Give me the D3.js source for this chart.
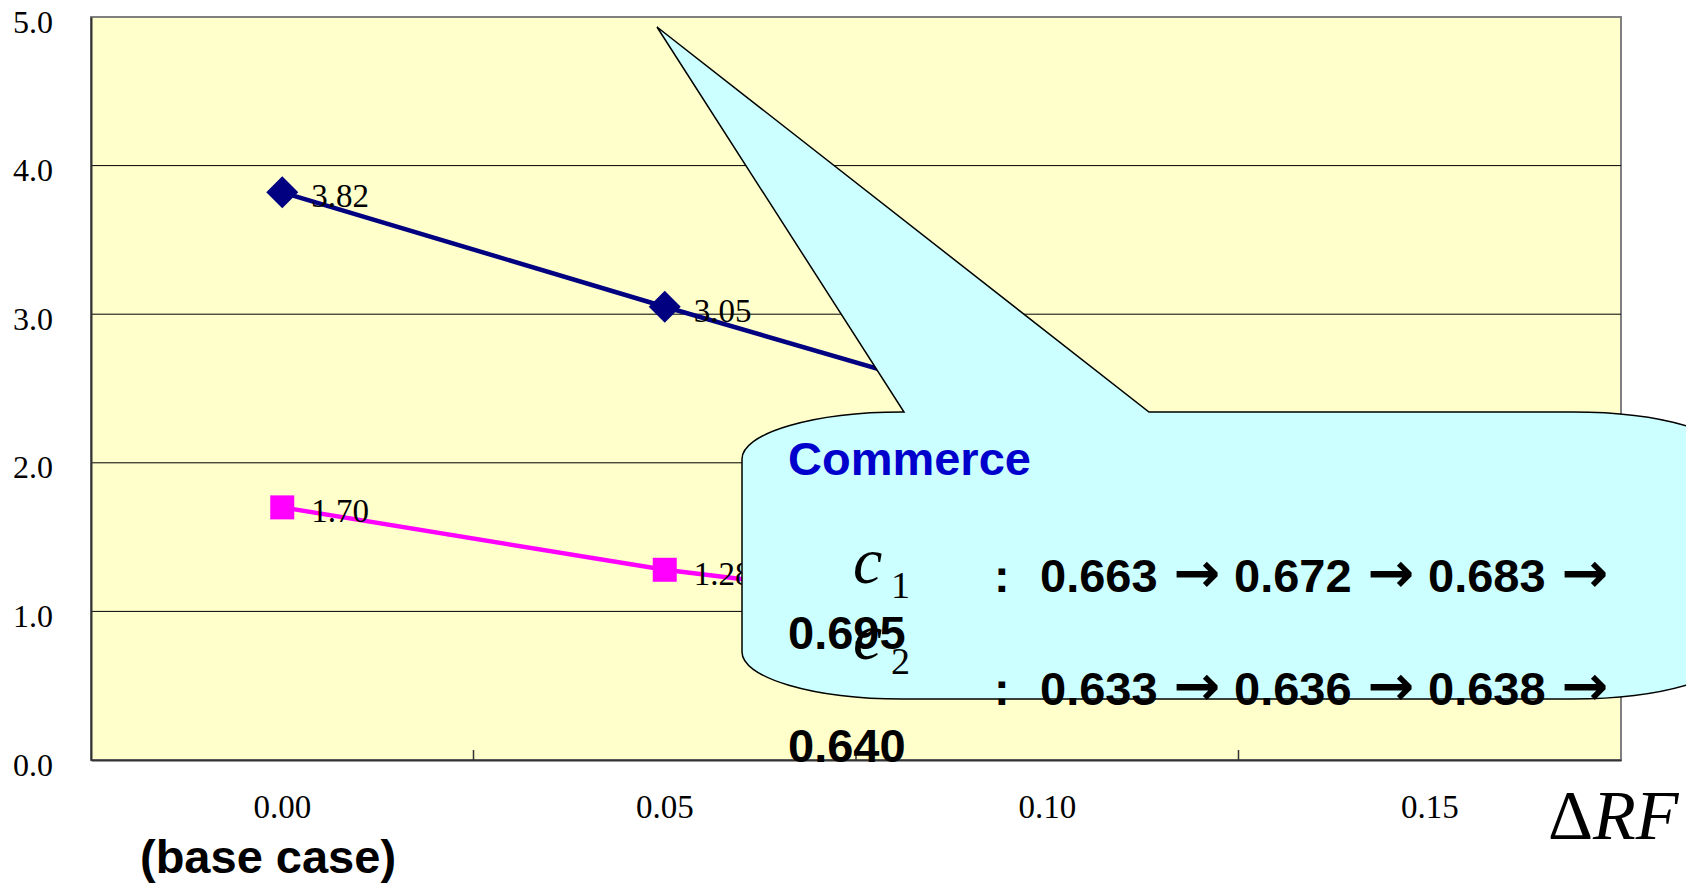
<!DOCTYPE html>
<html>
<head>
<meta charset="utf-8">
<script src="https://cdn.jsdelivr.net/npm/d3@7"></script>
<style>
  html, body { margin: 0; padding: 0; background: #fff; }
  svg { display: block; }
</style>
</head>
<body>
<svg id="chart" width="1686" height="885"></svg>
<script>
// values; the last points sit behind the callout, so they are estimates
const categories = ["0.00", "0.05", "0.10", "0.15"];
const navyValues = [3.82, 3.05, 2.30, 1.72];
const magentaValues = [1.70, 1.28, 0.97, 0.74];
const yTicks = [0, 1, 2, 3, 4, 5];
const c1Values = ["0.663", "0.672", "0.683", "0.695"];
const c2Values = ["0.633", "0.636", "0.638", "0.640"];

const sans = "'Liberation Sans', Arial, sans-serif";
const serif = "'Liberation Serif', 'Times New Roman', serif";

const svg = d3.select("#chart");
const plot = { left: 91, right: 1621, top: 17, bottom: 760 };

const x = d3.scaleBand().domain(categories).range([plot.left, plot.right]);
const y = d3.scaleLinear().domain([0, 5]).range([plot.bottom, plot.top]);
const cx = d => x(d) + x.bandwidth() / 2;

// plot area
svg.append("rect")
  .attr("x", plot.left)
  .attr("y", plot.top)
  .attr("width", plot.right - plot.left)
  .attr("height", plot.bottom - plot.top)
  .attr("fill", "#FFFFCC")
  .attr("stroke", "#808080")
  .attr("stroke-width", 2);

svg.append("g")
  .selectAll("line")
  .data(yTicks.slice(1, -1))
  .join("line")
  .attr("x1", plot.left)
  .attr("x2", plot.right)
  .attr("y1", d => y(d))
  .attr("y2", d => y(d))
  .attr("stroke", "#000")
  .attr("stroke-width", 1);

// y axis
const yAxis = d3.axisLeft(y)
  .tickValues(yTicks)
  .tickFormat(d3.format(".1f"))
  .tickSize(0)
  .tickPadding(38);
const gy = svg.append("g")
  .attr("transform", `translate(${plot.left},0)`)
  .call(yAxis);
gy.select(".domain").attr("stroke", "#333").attr("stroke-width", 2);
gy.selectAll("text")
  .attr("dy", "0.47em")
  .attr("font-family", serif)
  .attr("font-size", 32)
  .attr("fill", "#000");

// x axis: labels centred in each band, tick marks on the band edges
const xAxis = d3.axisBottom(x).tickSize(0);
const gx = svg.append("g")
  .attr("transform", `translate(0,${plot.bottom})`)
  .call(xAxis);
gx.select(".domain").attr("stroke", "#333").attr("stroke-width", 2);
gx.selectAll("text")
  .attr("y", 58)
  .attr("dy", 0)
  .attr("font-family", serif)
  .attr("font-size", 33)
  .attr("fill", "#000");

svg.append("g")
  .selectAll("line")
  .data(categories.slice(1))
  .join("line")
  .attr("x1", d => x(d))
  .attr("x2", d => x(d))
  .attr("y1", plot.bottom)
  .attr("y2", plot.bottom - 10)
  .attr("stroke", "#333")
  .attr("stroke-width", 1.5);

// series
const line = d3.line()
  .x((d, i) => cx(categories[i]))
  .y(d => y(d));

const series = [
  { values: navyValues, color: "#000080", symbol: d3.symbolSquare, size: 512, rotate: 45 },
  { values: magentaValues, color: "#FF00FF", symbol: d3.symbolSquare, size: 576, rotate: 0 }
];

series.forEach(s => {
  svg.append("path")
    .datum(s.values)
    .attr("d", line)
    .attr("fill", "none")
    .attr("stroke", s.color)
    .attr("stroke-width", 4.5);

  svg.append("g")
    .selectAll("path")
    .data(s.values)
    .join("path")
    .attr("d", d3.symbol(s.symbol, s.size))
    .attr("transform", (d, i) => `translate(${cx(categories[i])},${y(d)}) rotate(${s.rotate})`)
    .attr("fill", s.color);

  svg.append("g")
    .selectAll("text")
    .data(s.values)
    .join("text")
    .attr("x", (d, i) => cx(categories[i]) + 29)
    .attr("y", d => y(d) + 15)
    .attr("font-family", serif)
    .attr("font-size", 33)
    .text(d => d.toFixed(2));
});

// callout balloon
const co = { left: 742, right: 1733, top: 412, bottom: 699, rx: 160, ry: 47,
             tip: [657, 27], base: [904, 1149] };
const calloutPath = [
  `M${co.left},${co.top + co.ry}`,
  `A${co.rx},${co.ry} 0 0 1 ${co.left + co.rx},${co.top}`,
  `L${co.base[0]},${co.top}`,
  `L${co.tip[0]},${co.tip[1]}`,
  `L${co.base[1]},${co.top}`,
  `L${co.right - co.rx},${co.top}`,
  `A${co.rx},${co.ry} 0 0 1 ${co.right},${co.top + co.ry}`,
  `L${co.right},${co.bottom - co.ry}`,
  `A${co.rx},${co.ry} 0 0 1 ${co.right - co.rx},${co.bottom}`,
  `L${co.left + co.rx},${co.bottom}`,
  `A${co.rx},${co.ry} 0 0 1 ${co.left},${co.bottom - co.ry}`,
  "Z"
].join(" ");

svg.append("path")
  .attr("d", calloutPath)
  .attr("fill", "#CCFFFF")
  .attr("stroke", "#000")
  .attr("stroke-width", 1.5);

const note = svg.append("g").attr("font-family", sans).attr("font-weight", "bold").attr("font-size", 47);

note.append("text")
  .attr("x", 788)
  .attr("y", 475)
  .attr("fill", "#0000CC")
  .text("Commerce");

const rows = [
  { name: "1", values: c1Values, base: 592, cBase: 583, subBase: 598 },
  { name: "2", values: c2Values, base: 705, cBase: 659, subBase: 674 }
];

rows.forEach(r => {
  note.append("text")
    .attr("x", 853)
    .attr("y", r.cBase)
    .attr("font-family", serif)
    .attr("font-weight", "normal")
    .attr("font-style", "italic")
    .attr("font-size", 66)
    .text("c");
  note.append("text")
    .attr("x", 891)
    .attr("y", r.subBase)
    .attr("font-family", serif)
    .attr("font-weight", "normal")
    .attr("font-size", 38)
    .text(r.name);

  note.append("text")
    .attr("x", 994)
    .attr("y", r.base)
    .text(":");

  const first = r.values.slice(0, 3);
  note.selectAll(null)
    .data(first)
    .join("text")
    .attr("x", (d, i) => 1040 + i * 194)
    .attr("y", r.base)
    .text(d => d);
  note.selectAll(null)
    .data(first)
    .join("text")
    .attr("x", (d, i) => 1197 + i * 194)
    .attr("y", r.base)
    .attr("text-anchor", "middle")
    .attr("font-family", "'DejaVu Sans', sans-serif")
    .attr("font-size", 56)
    .text("\u2192");

  note.append("text")
    .attr("x", 788)
    .attr("y", r.base + 57)
    .text(r.values[3]);
});

// axis captions
svg.append("text")
  .attr("x", 140)
  .attr("y", 873)
  .attr("font-family", sans)
  .attr("font-weight", "bold")
  .attr("font-size", 47)
  .text("(base case)");

const rf = svg.append("text")
  .attr("x", 1548)
  .attr("y", 839)
  .attr("font-family", serif)
  .attr("font-size", 70);
rf.append("tspan").text("\u0394");
rf.append("tspan").attr("font-style", "italic").text("RF");
</script>
</body>
</html>
